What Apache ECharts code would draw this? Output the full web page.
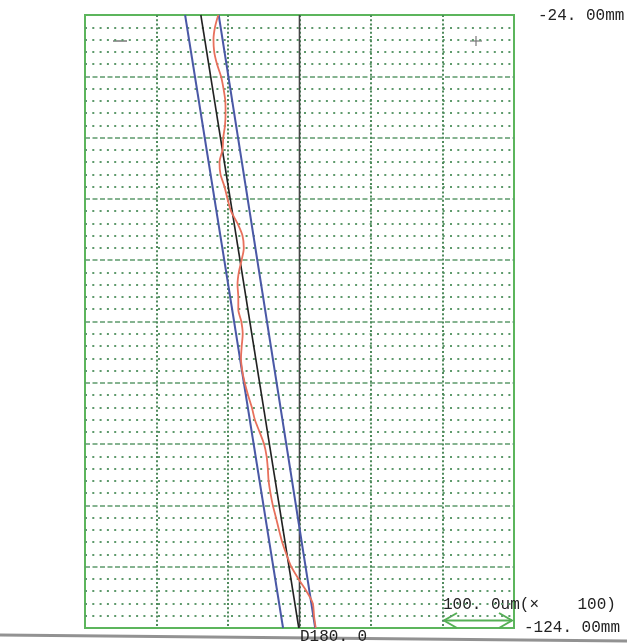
<!DOCTYPE html>
<html>
<head>
<meta charset="utf-8">
<script src="https://cdn.jsdelivr.net/npm/echarts@6/dist/echarts.min.js"></script>
<style>
html,body{margin:0;padding:0;background:#fff;}
#chart{width:627px;height:644px;}
</style>
</head>
<body>
<div id="chart"></div>
<script>
// Depth positions (mm), top to bottom
const depthMm = [-24,-26,-28,-30,-32,-34,-36,-38,-40,-42,-44,-46,-48,-50,-52,-54,-56,-58,-60,-62,-64,-66,-68,-70,-72,-74,-76,-78,-80,-82,-84,-86,-88,-90,-92,-94,-96,-98,-100,-102,-104,-106,-108,-110,-112,-114,-116,-118,-120,-122,-124];
const profileUm = [-113.6,-118.2,-120.3,-119.3,-115.4,-109.8,-106.3,-103.8,-103.4,-104.2,-106.6,-107.7,-111.9,-110.5,-104.9,-100.7,-95.8,-86.7,-79.7,-77.9,-81.0,-84.9,-86.7,-85.6,-85.6,-81.4,-79.4,-80.8,-81.8,-80.1,-76.6,-72.0,-66.7,-62.5,-55.9,-49.6,-46.0,-44.3,-43.2,-40.6,-37.3,-32.9,-28.7,-24.2,-18.2,-11.5,-1.4,9.8,18.6,20.3,22.7];
// Fitted line and tolerance band (um) at the ends
const endDepthMm = [-24, -124];
const fitUm = [-138, -1];
const bandUpperUm = [-113, 22];
const bandLowerUm = [-160, -23];
const centerUm = [0, 0];
// Axis range / tick values
const xRangeUm = [-300, 300];
const xStepUm = 100;
const yRangeMm = [-124, -24];
const yMajorMm = 10;
const yMinorSplit = 5;
// Texts
const topLabel = '-24. 00mm';
const bottomLabel = '-124. 00mm';
const directionLabel = 'D180. 0';
const scaleLabel = '100. 0um(×    100)';

const pairs = (xs, ys) => xs.map((x, i) => [x, ys[i]]);

const chart = echarts.init(document.getElementById('chart'), null, {renderer: 'canvas'});
const gridGreen = '#5e9a6c';
const txtFont = '16px "Liberation Mono", "DejaVu Sans Mono", monospace';

chart.setOption({
  animation: false,
  backgroundColor: '#fff',
  grid: {left: 85, top: 15, width: 429, height: 613, show: true, borderColor: '#5cb55c', borderWidth: 2, backgroundColor: '#fff'},
  xAxis: {
    type: 'value', min: xRangeUm[0], max: xRangeUm[1], interval: xStepUm,
    axisLine: {show: false}, axisTick: {show: false}, axisLabel: {show: false},
    splitLine: {show: true, showMinLine: false, showMaxLine: false,
      lineStyle: {color: '#4f8a5c', type: [2, 2.2], width: 2}}
  },
  yAxis: {
    type: 'value', min: yRangeMm[0], max: yRangeMm[1], interval: yMajorMm,
    axisLine: {show: false}, axisTick: {show: false}, axisLabel: {show: false},
    splitLine: {show: true, showMinLine: false, showMaxLine: false,
      lineStyle: {color: gridGreen, type: [5, 2.5], width: 1.6}},
    minorTick: {show: false, splitNumber: yMinorSplit},
    minorSplitLine: {show: true, lineStyle: {color: gridGreen, type: [2, 5.3], width: 2}}
  },
  series: [
    {type: 'line', data: pairs(centerUm, endDepthMm), showSymbol: false, silent: true,
      lineStyle: {color: '#444', width: 1.6}, z: 3},
    {type: 'line', data: pairs(bandLowerUm, endDepthMm), showSymbol: false, silent: true,
      lineStyle: {color: '#4a58a6', width: 2}, z: 4},
    {type: 'line', data: pairs(bandUpperUm, endDepthMm), showSymbol: false, silent: true,
      lineStyle: {color: '#4a58a6', width: 2}, z: 4},
    {type: 'line', data: pairs(fitUm, endDepthMm), showSymbol: false, silent: true,
      lineStyle: {color: '#222', width: 1.6}, z: 5},
    {type: 'line', data: pairs(profileUm, depthMm), showSymbol: false, silent: true, smooth: 0.3,
      lineStyle: {color: '#e8705c', width: 1.8}, z: 6}
  ],
  graphic: [
    {type: 'text', x: 538, y: 16, style: {text: topLabel, font: txtFont, fill: '#222', textAlign: 'left', textVerticalAlign: 'middle'}},
    {type: 'text', x: 524, y: 628, style: {text: bottomLabel, font: txtFont, fill: '#222', textAlign: 'left', textVerticalAlign: 'middle'}},
    {type: 'text', x: 300, y: 637, style: {text: directionLabel, font: txtFont, fill: '#222', textAlign: 'left', textVerticalAlign: 'middle'}},
    {type: 'text', x: 443, y: 605, style: {text: scaleLabel, font: txtFont, fill: '#222', textAlign: 'left', textVerticalAlign: 'middle'}},
    {type: 'line', shape: {x1: 444, y1: 620.5, x2: 512, y2: 620.5}, style: {stroke: '#55b055', lineWidth: 2}},
    {type: 'polyline', shape: {points: [[457, 613], [444, 620.5], [457, 628]]}, style: {stroke: '#55b055', lineWidth: 2, fill: null}},
    {type: 'polyline', shape: {points: [[499, 613], [512, 620.5], [499, 628]]}, style: {stroke: '#55b055', lineWidth: 2, fill: null}},
    {type: 'line', shape: {x1: 113, y1: 41, x2: 127, y2: 41}, style: {stroke: '#777', lineWidth: 1.5}},
    {type: 'line', shape: {x1: 470, y1: 41, x2: 482, y2: 41}, style: {stroke: '#777', lineWidth: 1.2}},
    {type: 'line', shape: {x1: 476, y1: 36, x2: 476, y2: 46}, style: {stroke: '#777', lineWidth: 1.2}},
    {type: 'line', shape: {x1: 0, y1: 635, x2: 627, y2: 641}, style: {stroke: '#777', lineWidth: 3, opacity: 0.8}, z: -1}
  ]
});
</script>
</body>
</html>
